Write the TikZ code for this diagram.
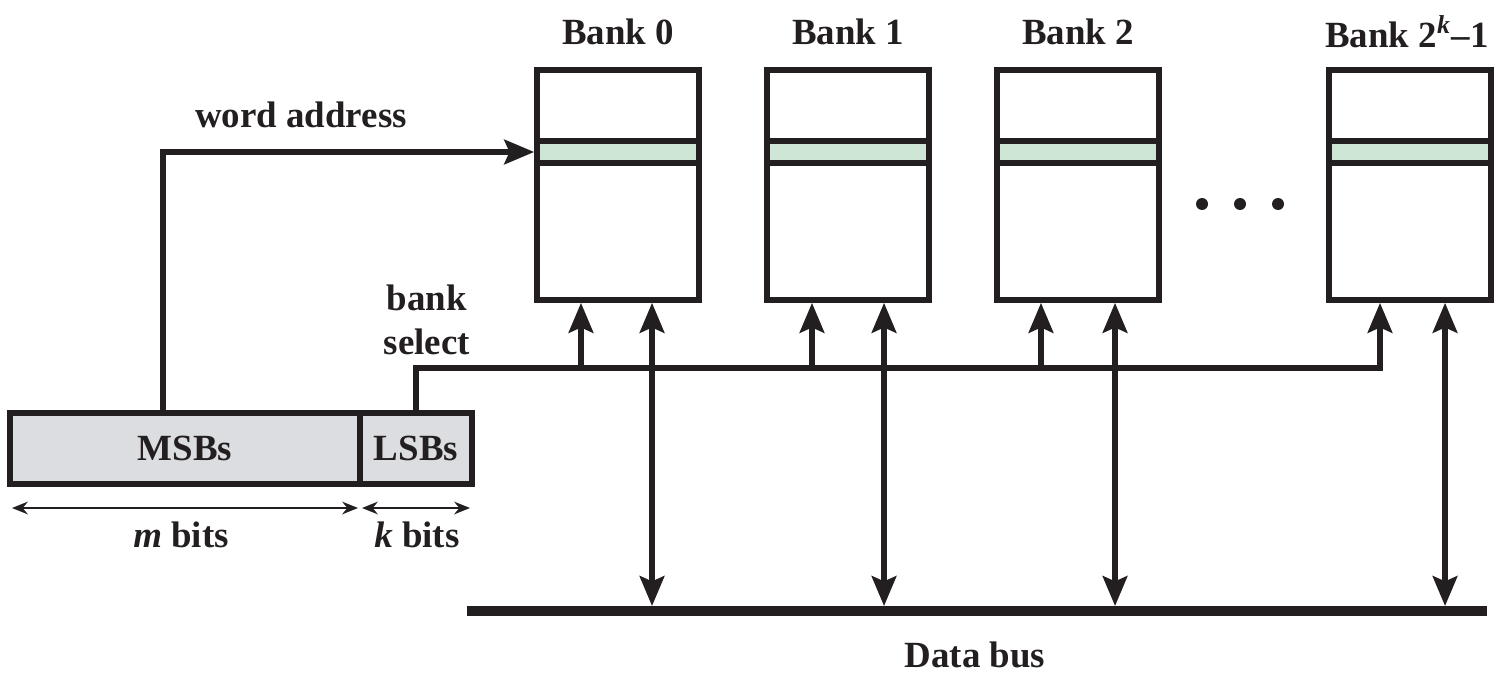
\documentclass[tikz,border=0pt]{standalone}
\usepackage{fontspec}
\setmainfont{Liberation Serif}
\usetikzlibrary{arrows.meta}
\definecolor{ink}{HTML}{231F20}
\definecolor{stripgreen}{HTML}{CDE6D5}
\definecolor{fieldgray}{HTML}{DCDDE0}
\tikzset{
  lbl/.style={font=\fontsize{10.5}{12.5}\selectfont\bfseries, text=ink, inner sep=0pt},
  wire/.style={draw=ink, line width=1.5pt},
  bigtip/.style={-{Stealth[length=8.5pt,width=7pt,inset=1.5pt]}},
  bothtip/.style={{Stealth[length=8.5pt,width=7pt,inset=1.5pt]}-{Stealth[length=8.5pt,width=7pt,inset=1.5pt]}},
  bankbox/.style={wire, line width=1.6pt, rectangle, minimum width=1.62cm, minimum height=2.30cm, inner sep=0pt},
  strip/.style={wire, line width=1.6pt, rectangle, fill=stripgreen, minimum width=1.62cm, minimum height=0.22cm, inner sep=0pt},
  field/.style={wire, line width=1.6pt, rectangle, fill=fieldgray, minimum height=0.71cm, inner sep=0pt},
  span/.style={draw=ink, line width=0.6pt, {Stealth[length=4.5pt,width=3.6pt]}-{Stealth[length=4.5pt,width=3.6pt]}}
}
\begin{document}
\begin{tikzpicture}[x=0.01cm, y=-0.01cm]
  \useasboundingbox (0,0) rectangle (1504,673);

  % memory banks
  \foreach \i/\x in {0/618, 1/848, 2/1078, 3/1410} {
    \node[bankbox] (b\i) at (\x,185) {};
    \node[strip] (s\i) at (\x,152) {};
  }
  \node[lbl] (t0) at ([yshift=0.35cm]b0.north) {Bank 0};
  \node[lbl] (t1) at ([yshift=0.35cm]b1.north) {Bank 1};
  \node[lbl] (t2) at ([yshift=0.35cm]b2.north) {Bank 2};
  \node[lbl] (t3) at ([xshift=-0.03cm,yshift=0.35cm]b3.north) {Bank 2\textsuperscript{\textit{k}}--1};

  % dots
  \foreach \x in {1202, 1240, 1278}
    \fill[ink] (\x,204) circle (6);

  % address fields
  \node[field, minimum width=3.50cm] (msb) at (185,448.5) {};
  \node[field, minimum width=1.12cm] (lsb) at (416,448.5) {};
  \node[lbl] at (msb) {MSBs};
  \node[lbl] at (lsb) {LSBs};
  \coordinate (mL) at (12,508);
  \coordinate (mR) at (358,508);
  \coordinate (kL) at (362,508);
  \coordinate (kR) at (470,508);
  \draw[span] (mL) -- (mR);
  \draw[span] (kL) -- (kR);
  \node[lbl] (mtxt) at (181,535) {\textit{m} bits};
  \node[lbl] (ktxt) at (417,535) {\textit{k} bits};

  % word address
  \coordinate (wtap) at (163,413);
  \draw[wire, bigtip] (wtap) |- (s0.west);
  \node[lbl] (wtxt) at (301,115) {word address};

  % bank select
  \coordinate (selbus) at (0,368);
  \draw[wire, bigtip] (lsb.north) |- ([xshift=-0.30cm]b3.south |- selbus) -- ([xshift=-0.30cm]b3.south);
  \foreach \i/\d in {0/-0.37cm, 1/-0.36cm, 2/-0.37cm}
    \draw[wire, bigtip] ([xshift=\d]b\i.south |- selbus) -- ([xshift=\d]b\i.south);
  \node[lbl, align=center] (stxt) at (427,320) {bank\\select};

  % data bus
  \coordinate (busL) at (467,611);
  \coordinate (busR) at (1487,611);
  \coordinate (bustop) at (0,606);
  \draw[draw=ink, line width=2.9pt] (busL) -- (busR);
  \foreach \i/\d in {0/0.34cm, 1/0.36cm, 2/0.37cm, 3/0.35cm}
    \draw[wire, bothtip] ([xshift=\d]b\i.south) -- ([xshift=\d]b\i.south |- bustop);
  \node[lbl] (dtxt) at (975,655) {Data bus};
\end{tikzpicture}
\end{document}
